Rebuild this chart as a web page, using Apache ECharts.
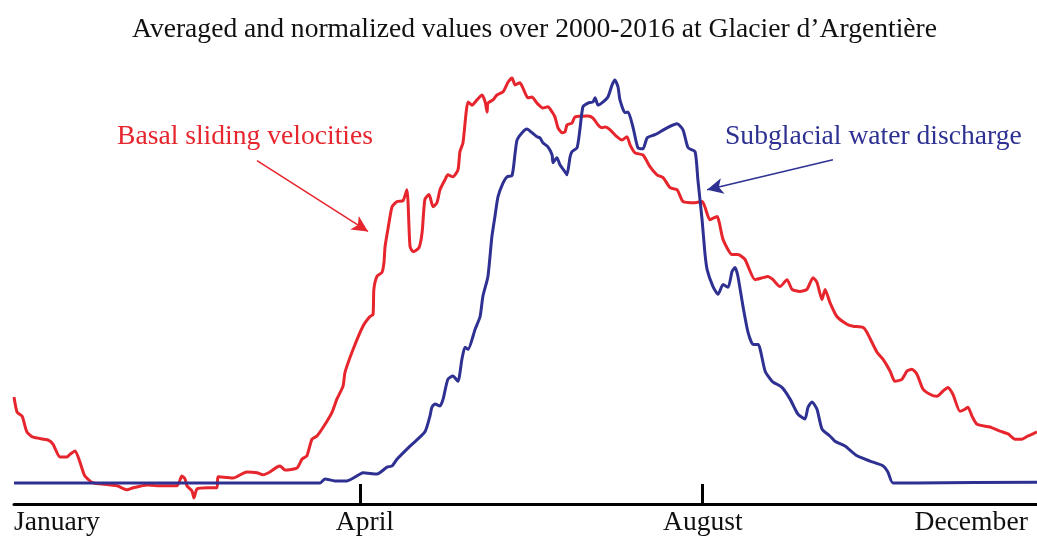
<!DOCTYPE html>
<html>
<head>
<meta charset="utf-8">
<style>
  html, body { margin: 0; padding: 0; background: #fff; }
  #chart { width: 1037px; height: 537px; }
</style>
<script src="https://cdn.jsdelivr.net/npm/echarts@6/dist/echarts.min.js"></script>
</head>
<body>
<div id="chart"></div>
<script>
// day of year (axis units) and normalized value
const redDays = [0,1.1,2.9,4.6,6.8,12.1,13.9,16.4,18.9,20.0,21.8,23.5,25.3,28.2,30.7,36.8,40.3,42.5,47.5,51.0,
  58.2,59.9,61.0,61.7,63.5,64.2,65.3,68.9,72.4,72.8,78.1,83.1,86.7,88.8,91.3,93.8,94.9,96.7,101.0,102.8,
  104.5,106.3,108.1,111.0,113.5,115.2,117.4,118.1,121.0,124.5,127.0,128.1,128.4,129.5,131.3,132.0,132.4,133.4,134.9,136.7,
  138.8,140.2,140.6,141.3,142.4,144.5,145.6,146.6,148.1,149.5,150.9,152.0,153.8,154.8,156.6,158.4,159.1,160.2,161.3,162.0,
  163.4,165.2,167.0,168.1,168.8,169.1,170.9,172.3,174.5,176.3,177.7,178.8,180.5,181.6,183.4,184.8,186.6,188.7,190.5,192.0,
  193.0,194.1,195.5,196.6,197.3,199.1,200.2,204.8,206.6,208.4,209.8,210.9,212.7,215.1,216.9,218.7,219.8,221.6,224.4,226.9,
  229.4,231.6,234.1,236.6,238.7,243.0,245.5,246.5,248.3,250.8,253.0,256.2,258.3,260.8,264.4,267.2,269.0,270.8,273.3,275.8,
  277.6,280.4,282.9,285.1,286.5,288.3,289.4,291.1,293.6,297.2,299.4,302.9,304.3,307.9,310.1,312.6,314.3,316.8,318.6,320.4,
  322.2,324.3,326.8,329.3,331.5,333.2,335.0,337.5,339.3,340.4,341.8,343.6,348.2,351.8,354.7,357.2,359.6,361.8,363.6,365.0]
const redVals = [0.212,0.175,0.165,0.126,0.113,0.106,0.096,0.064,0.064,0.071,0.079,0.052,0.017,0,-0.002,-0.007,-0.017,-0.012,-0.005,-0.007,
  -0.007,0.017,0.010,-0.007,-0.020,-0.037,-0.015,-0.012,-0.012,0.015,0.012,0.027,0.025,0.020,0.027,0.039,0.042,0.032,0.037,0.059,
  0.067,0.108,0.116,0.145,0.175,0.207,0.239,0.273,0.330,0.387,0.411,0.416,0.478,0.510,0.520,0.544,0.584,0.626,0.682,0.695,
  0.697,0.724,0.692,0.584,0.571,0.581,0.618,0.700,0.712,0.682,0.692,0.724,0.749,0.761,0.756,0.773,0.818,0.840,0.914,0.941,
  0.933,0.946,0.958,0.941,0.916,0.938,0.946,0.958,0.966,0.990,1.0,0.983,0.988,0.975,0.951,0.953,0.938,0.926,0.929,0.916,
  0.904,0.877,0.865,0.867,0.884,0.889,0.904,0.906,0.901,0.884,0.877,0.879,0.872,0.855,0.847,0.855,0.835,0.815,0.810,0.781,
  0.761,0.754,0.729,0.724,0.695,0.692,0.695,0.682,0.650,0.658,0.601,0.564,0.564,0.552,0.502,0.507,0.510,0.502,0.485,0.502,
  0.478,0.473,0.478,0.507,0.495,0.453,0.478,0.446,0.411,0.392,0.387,0.384,0.372,0.323,0.305,0.276,0.251,0.256,0.276,0.281,
  0.268,0.232,0.219,0.214,0.227,0.236,0.219,0.177,0.182,0.187,0.165,0.145,0.138,0.128,0.121,0.108,0.108,0.116,0.121,0.126]

const blueDays = [0,109.2,111.0,114.5,118.8,123.5,124.5,129.5,133.1,134.9,136.7,141.3,146.6,148.4,149.1,150.2,152.0,153.1,154.8,156.6,
  158.4,159.8,160.9,162.0,164.5,166.3,167.3,169.1,170.5,171.6,172.7,174.5,175.9,177.7,178.8,179.5,181.3,183.0,184.8,186.6,
  187.7,188.7,190.5,192.0,192.3,193.7,194.8,196.6,197.3,198.4,199.1,200.9,201.9,203.0,204.8,206.6,207.3,208.4,210.2,211.9,
  213.4,214.4,215.5,216.2,218.0,219.1,220.9,222.6,224.4,225.9,228.7,233.0,236.6,238.7,240.5,243.0,244.0,245.5,246.5,247.3,
  249.4,251.2,253.0,254.8,256.2,257.3,258.3,260.1,261.9,263.7,265.5,268.0,270.5,274.0,276.9,279.7,282.2,283.3,284.7,286.5,
  288.3,291.1,292.9,296.5,300.8,305.4,310.1,311.8,313.6,322.2,365]
const blueVals = [0,0,0.010,0.005,0.005,0.022,0.025,0.022,0.039,0.042,0.059,0.091,0.126,0.165,0.187,0.195,0.190,0.207,0.256,0.264,
  0.251,0.305,0.335,0.330,0.379,0.411,0.461,0.510,0.608,0.658,0.707,0.741,0.756,0.759,0.815,0.847,0.865,0.874,0.865,0.855,
  0.852,0.840,0.830,0.810,0.791,0.803,0.786,0.768,0.761,0.805,0.818,0.828,0.872,0.929,0.938,0.941,0.951,0.933,0.941,0.953,
  0.983,0.995,0.978,0.946,0.914,0.916,0.877,0.828,0.825,0.852,0.860,0.877,0.887,0.872,0.828,0.818,0.749,0.650,0.569,0.527,
  0.485,0.466,0.490,0.483,0.522,0.532,0.510,0.436,0.372,0.342,0.342,0.276,0.251,0.236,0.207,0.170,0.158,0.187,0.200,0.182,
  0.133,0.116,0.103,0.091,0.067,0.054,0.042,0.027,0,0,0.002]

const tickDays = [123.5, 245.5]
const monthLabels = ['January', 'April', 'August', 'December']
const labelDays = [15.3, 125.2, 245.8, 341.5]

const RED = '#e6252d'
const BLUE = '#2e3192'
const FONT = '"Liberation Serif", "Times New Roman", serif'
const FS = 27.6

const zip = (xs, ys) => xs.map((x, i) => [x, ys[i]])

const chart = echarts.init(document.getElementById('chart'))
chart.setOption({
  animation: false,
  backgroundColor: '#fff',
  title: {
    text: 'Averaged and normalized values over 2000-2016 at Glacier d\u2019Argenti\u00e8re',
    left: 127,
    top: 11,
    textStyle: { fontFamily: FONT, fontSize: FS, fontWeight: 'normal', color: '#111' }
  },
  grid: { left: 14, right: 0, top: 78, bottom: 32 },
  xAxis: {
    type: 'value',
    min: 0,
    max: 365,
    splitLine: { show: false },
    axisLine: { onZero: false, lineStyle: { color: '#000', width: 3 } },
    axisTick: {
      customValues: tickDays,
      inside: true,
      length: 20,
      lineStyle: { color: '#000', width: 3 }
    },
    axisLabel: {
      customValues: labelDays,
      margin: 5,
      fontFamily: FONT,
      fontSize: FS,
      color: '#111',
      formatter: function (v) {
        const i = labelDays.indexOf(v)
        return i >= 0 ? monthLabels[i] : ''
      }
    }
  },
  yAxis: {
    type: 'value',
    min: -0.052,
    max: 1.0,
    show: false
  },
  graphic: [
    {
      type: 'text', left: 117, top: 123,
      style: { text: 'Basal sliding velocities', font: FS + 'px ' + FONT, fill: RED }
    },
    {
      type: 'text', left: 725, top: 123,
      style: { text: 'Subglacial water discharge', font: FS + 'px ' + FONT, fill: BLUE }
    }
  ],
  series: [
    {
      name: 'Basal sliding velocities',
      type: 'line',
      data: zip(redDays, redVals),
      showSymbol: false,
      smooth: 0.2,
      clip: false,
      lineStyle: { color: RED, width: 3 },
      itemStyle: { color: RED },
      markLine: {
        silent: true,
        symbol: ['none', 'arrow'],
        symbolSize: [12, 16],
        label: { show: false },
        lineStyle: { color: RED, width: 1.5, type: 'solid' },
        data: [[{ coord: [86.7, 0.796] }, { coord: [126.3, 0.621] }]]
      }
    },
    {
      name: 'Subglacial water discharge',
      type: 'line',
      data: zip(blueDays, blueVals),
      showSymbol: false,
      smooth: 0.2,
      clip: false,
      lineStyle: { color: BLUE, width: 3 },
      itemStyle: { color: BLUE },
      markLine: {
        silent: true,
        symbol: ['none', 'arrow'],
        symbolSize: [12, 16],
        label: { show: false },
        lineStyle: { color: BLUE, width: 1.5, type: 'solid' },
        data: [[{ coord: [292.2, 0.798] }, { coord: [247.3, 0.724] }]]
      }
    }
  ]
})
</script>
</body>
</html>
